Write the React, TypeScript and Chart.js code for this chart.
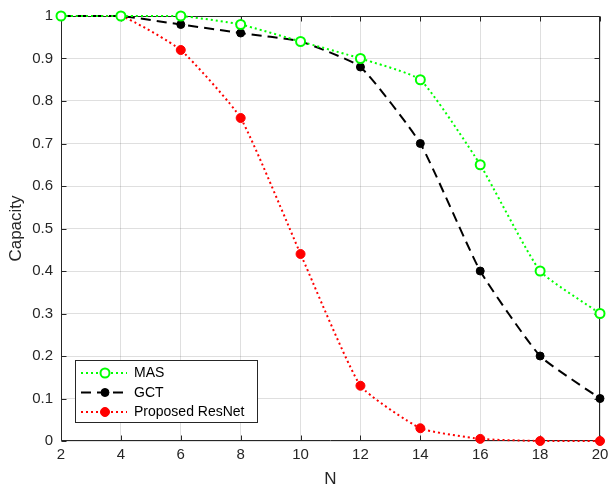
import React, { useEffect, useRef } from "react";
import { Chart, registerables } from "chart.js";

Chart.register(...registerables);

const nValues = [2, 4, 6, 8, 10, 12, 14, 16, 18, 20];
const masValues = [1, 1, 1, 0.98, 0.94, 0.9, 0.85, 0.65, 0.4, 0.3];
const gctValues = [1, 1, 0.98, 0.96, 0.94, 0.88, 0.7, 0.4, 0.2, 0.1];
const resnetValues = [1, 1, 0.92, 0.76, 0.44, 0.13, 0.03, 0.005, 0, 0];
const seriesNames = ["MAS", "GCT", "Proposed ResNet"];
const xTitle = "N";
const yTitle = "Capacity";

const AXIS = "#262626";
const FONT = "Arial, 'Liberation Sans', sans-serif";
const TENSION = 0.15;

const boxPlugin = {
  id: "matlabBox",
  beforeDatasetsDraw(chart: any) {
    const { ctx, chartArea: a, scales } = chart;
    ctx.save();
    ctx.strokeStyle = AXIS;
    ctx.lineWidth = 1;
    ctx.beginPath();
    const L = Math.round(a.left) + 0.5, R = Math.round(a.right) - 0.5;
    const T = Math.round(a.top) + 0.5, B = Math.round(a.bottom) - 0.5;
    ctx.rect(L, T, R - L, B - T);
    const tl = 5;
    scales.x.ticks.forEach((t: any) => {
      const px = Math.round(scales.x.getPixelForValue(t.value)) + 0.5;
      ctx.moveTo(px, B); ctx.lineTo(px, B - tl);
      ctx.moveTo(px, T); ctx.lineTo(px, T + tl);
    });
    scales.y.ticks.forEach((t: any) => {
      const py = Math.round(scales.y.getPixelForValue(t.value)) + 0.5;
      ctx.moveTo(L, py); ctx.lineTo(L + tl, py);
      ctx.moveTo(R, py); ctx.lineTo(R - tl, py);
    });
    ctx.stroke();
    ctx.restore();
  },
  afterDraw(chart: any) {
    const { ctx } = chart;
    ctx.save();
    const bx = 75.5, by = 360.5, bw = 182, bh = 62;
    ctx.fillStyle = "#ffffff";
    ctx.fillRect(bx, by, bw, bh);
    ctx.strokeStyle = AXIS;
    ctx.lineWidth = 1;
    ctx.strokeRect(bx, by, bw, bh);
    const rows = [373, 392.5, 412];
    chart.data.datasets.forEach((ds: any, i: number) => {
      const y = rows[i];
      ctx.save();
      ctx.strokeStyle = ds.borderColor;
      ctx.lineWidth = ds.borderWidth;
      ctx.setLineDash(ds.borderDash || []);
      ctx.beginPath();
      ctx.moveTo(81, y);
      ctx.lineTo(127, y);
      ctx.stroke();
      ctx.setLineDash([]);
      ctx.beginPath();
      ctx.arc(105, y, ds.pointRadius, 0, Math.PI * 2);
      ctx.fillStyle = ds.pointBackgroundColor;
      ctx.fill();
      ctx.lineWidth = ds.pointBorderWidth;
      ctx.strokeStyle = ds.pointBorderColor;
      ctx.stroke();
      ctx.restore();
      ctx.fillStyle = "#000000";
      ctx.font = `14px ${FONT}`;
      ctx.textBaseline = "middle";
      ctx.textAlign = "left";
      ctx.fillText(ds.label, 134, y + 0.5);
    });
    ctx.restore();
  },
};

function toPoints(vals: number[]) {
  return nValues.map((x, i) => ({ x, y: vals[i] }));
}

const fmt = (v: any) => String(Number(Number(v).toFixed(1)));

export default function App() {
  const ref = useRef<HTMLCanvasElement>(null);
  useEffect(() => {
    if (!ref.current) return;
    const chart = new Chart(ref.current, {
      type: "line",
      data: {
        datasets: [
          {
            label: seriesNames[0],
            data: toPoints(masValues),
            borderColor: "#00ff00",
            borderWidth: 2,
            borderDash: [2, 3],
            pointRadius: 4.5,
            pointBackgroundColor: "#ffffff",
            pointBorderColor: "#00ff00",
            pointBorderWidth: 2,
            tension: TENSION,
            clip: false,
          },
          {
            label: seriesNames[1],
            data: toPoints(gctValues),
            borderColor: "#000000",
            borderWidth: 2,
            borderDash: [10, 6],
            pointRadius: 4,
            pointBackgroundColor: "#000000",
            pointBorderColor: "#000000",
            pointBorderWidth: 1,
            tension: TENSION,
            clip: false,
          },
          {
            label: seriesNames[2],
            data: toPoints(resnetValues),
            borderColor: "#ff0000",
            borderWidth: 2,
            borderDash: [2, 3],
            pointRadius: 4.5,
            pointBackgroundColor: "#ff0000",
            pointBorderColor: "#ff0000",
            pointBorderWidth: 1,
            tension: TENSION,
            clip: false,
          },
        ] as any,
      },
      options: {
        animation: false,
        responsive: false,
        layout: { padding: { top: 16, right: 8, left: 0, bottom: 0 } },
        plugins: { legend: { display: false }, tooltip: { enabled: false } },
        scales: {
          x: {
            type: "linear",
            min: 2,
            max: 20,
            afterFit: (s: any) => { s.height = 51; s.paddingLeft = 0; s.paddingRight = 0; },
            ticks: { stepSize: 2, color: AXIS, padding: 5, font: { family: FONT, size: 15 }, callback: fmt },
            grid: { color: "rgba(38,38,38,0.15)", drawTicks: false },
            border: { display: false },
            title: { display: true, text: xTitle, color: AXIS, padding: { top: 0, bottom: 2 }, font: { family: FONT, size: 17 } },
          },
          y: {
            type: "linear",
            min: 0,
            max: 1,
            afterFit: (s: any) => { s.width = 61; s.paddingTop = 0; s.paddingBottom = 0; },
            ticks: { stepSize: 0.1, color: AXIS, padding: 8, font: { family: FONT, size: 15 }, callback: fmt },
            grid: { color: "rgba(38,38,38,0.15)", drawTicks: false },
            border: { display: false },
            title: { display: true, text: yTitle, color: AXIS, padding: { top: 6, bottom: 0 }, font: { family: FONT, size: 17 } },
          },
        },
      },
      plugins: [boxPlugin],
    });
    return () => chart.destroy();
  }, []);
  return (
    <div style={{ position: "absolute", left: 0, top: 0, width: 608, height: 492, background: "#fff" }}>
      <canvas ref={ref} width={608} height={492} style={{ display: "block" }} />
    </div>
  );
}
